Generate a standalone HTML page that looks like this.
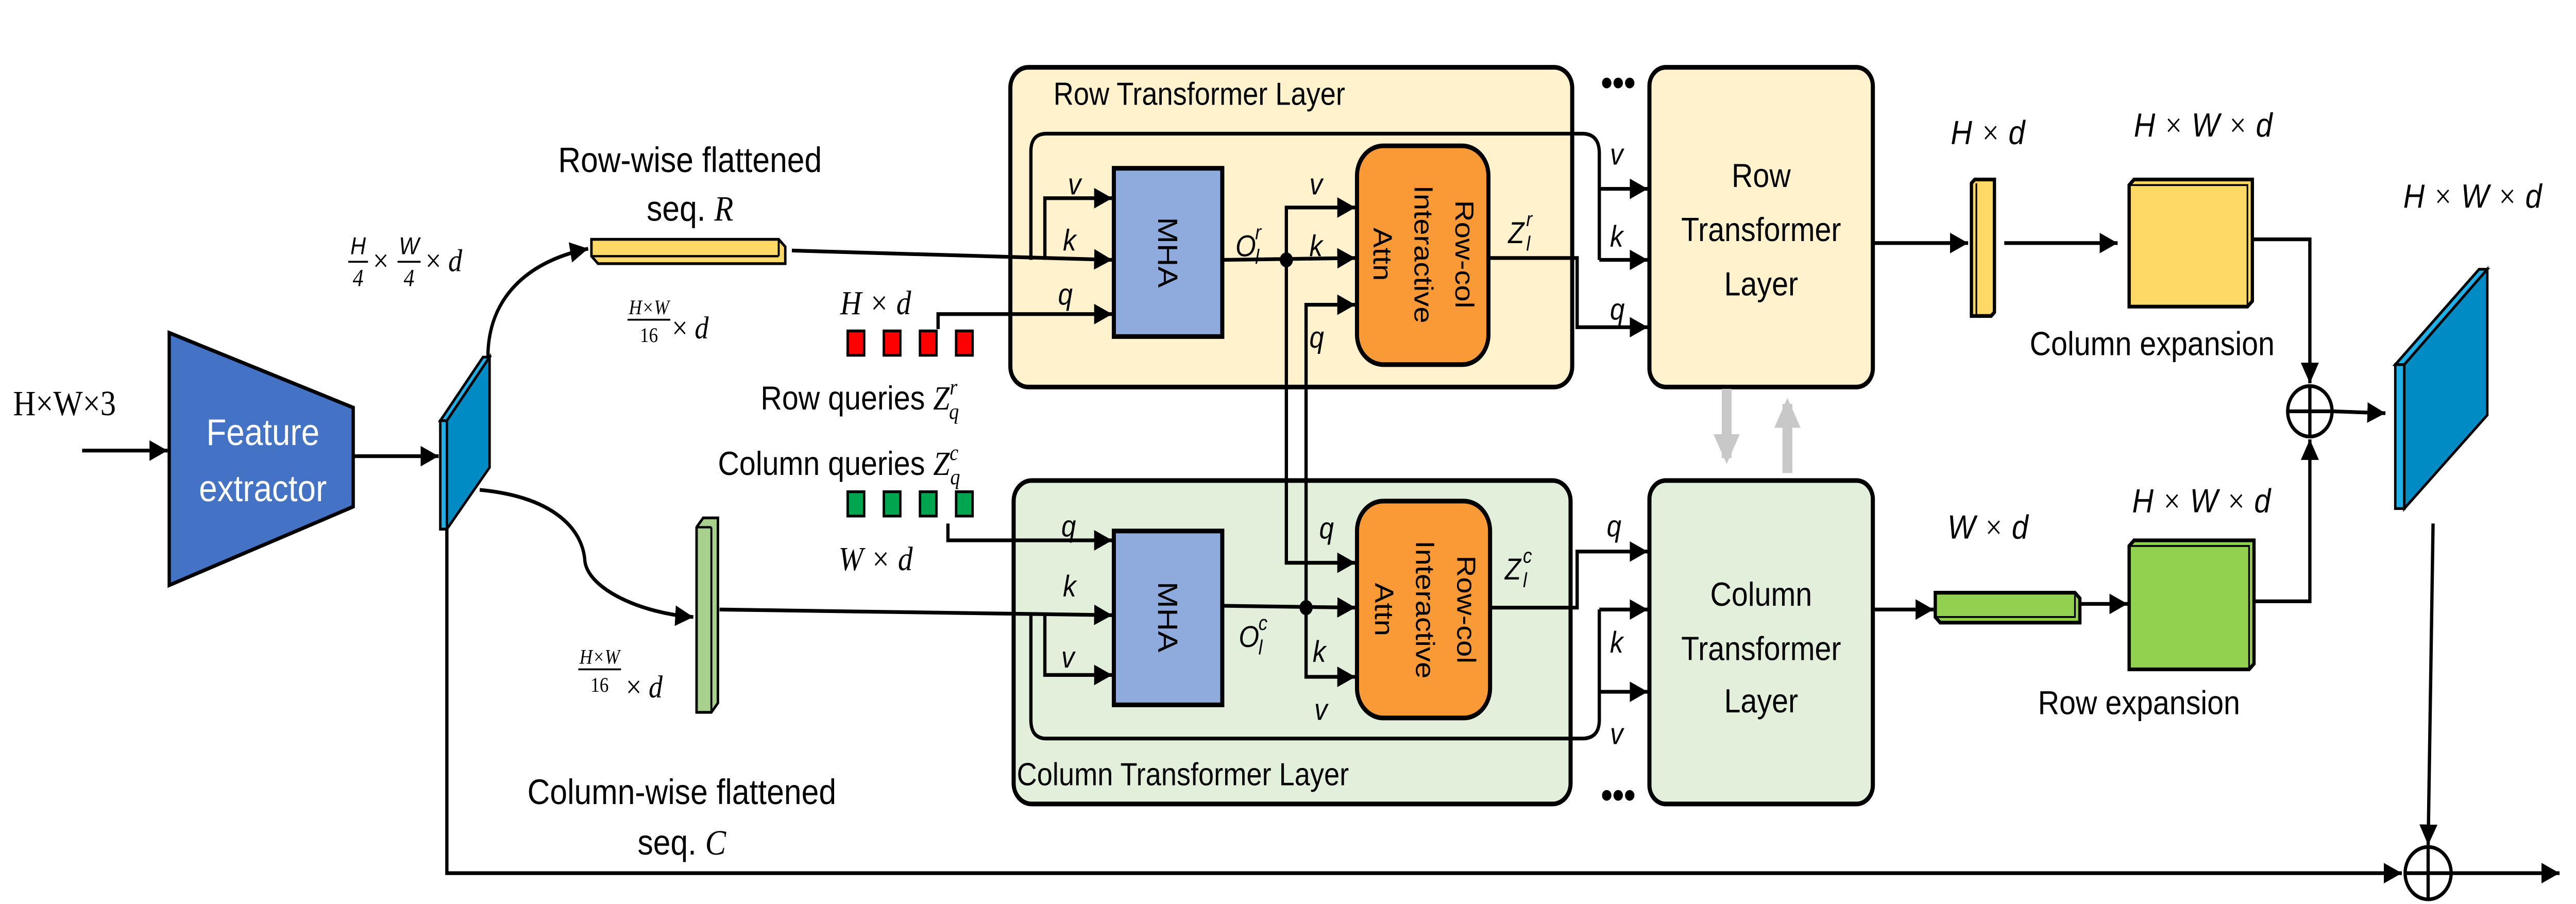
<!DOCTYPE html>
<html><head><meta charset="utf-8"><style>
html,body{margin:0;padding:0;background:#fff;overflow:hidden;width:100%;height:100%;}
svg{display:block;position:fixed;left:0;top:0;width:100vw;height:100vh;}
text{font-family:"Liberation Sans",sans-serif;}
.m{font-family:"Liberation Serif",serif;font-style:italic;}
.s{font-family:"Liberation Serif",serif;}
</style></head><body>
<svg viewBox="0 0 1568 483.5" preserveAspectRatio="none" xmlns="http://www.w3.org/2000/svg">
<defs>
<marker id="a" viewBox="0 0 10 10" refX="10" refY="5" markerWidth="11" markerHeight="11" markerUnits="userSpaceOnUse" orient="auto"><path d="M0,0L10,5L0,10z" fill="#000"/></marker>
<marker id="g" viewBox="0 0 10 10" refX="8" refY="5" markerWidth="16" markerHeight="16" markerUnits="userSpaceOnUse" orient="auto"><path d="M0,0L10,5L0,10z" fill="#c8c8c8"/></marker>
</defs>
<g stroke="#000" stroke-width="2" fill="none">
<line x1="50" y1="241" x2="102" y2="241" marker-end="url(#a)"/>
<polygon points="103,178 215,218 215,271 103,313" fill="#4472C4"/>
<line x1="215" y1="244" x2="267" y2="244" marker-end="url(#a)"/>
<polygon points="268,225 272,225 298,191 294,191" fill="#1FB0E8" stroke-width="1.5"/>
<polygon points="268,225 272,225 272,283 268,283" fill="#1FB0E8" stroke-width="1.5"/>
<polygon points="272,225 298,191 298,250 272,283" fill="#008BC4" stroke-width="1.5"/>
<path d="M297,191 C297,160 320,140 358,133" marker-end="url(#a)"/>
<path d="M292,262 C340,266 355,285 356,300 C358,315 390,328 422,330" marker-end="url(#a)"/>
<polygon points="360,128 474,128 478,132 478,141 364,141 360,137" fill="#FFD966" stroke-width="1.5"/>
<line x1="360" y1="137" x2="474" y2="137" stroke-width="1.2"/><line x1="474" y1="128" x2="474" y2="137" stroke-width="1.2"/>
<polygon points="424,282 428,277 437,277 437,376 433,381 424,381" fill="#A9D18E" stroke-width="1.5"/>
<line x1="433" y1="282" x2="433" y2="381" stroke-width="1.2"/><line x1="424" y1="282" x2="433" y2="282" stroke-width="1.2"/>
<polyline points="272,283 272,467 1462,467" marker-end="url(#a)"/>
<line x1="1492" y1="467" x2="1558" y2="467" marker-end="url(#a)"/>
<circle cx="1478" cy="467" r="14" fill="#fff"/>
<line x1="1464" y1="467" x2="1492" y2="467"/><line x1="1478" y1="453" x2="1478" y2="481"/>
<line x1="1481" y1="280" x2="1478" y2="452" marker-end="url(#a)"/>
<rect x="615" y="36" width="342" height="171" rx="11" fill="#FFF2CC" stroke-width="2.5"/>
<rect x="617" y="257" width="339" height="173" rx="11" fill="#E2EFDA" stroke-width="2.5"/>
<rect x="1004" y="36" width="136" height="171" rx="10" fill="#FFF2CC" stroke-width="2.5"/>
<rect x="1004" y="257" width="136" height="173" rx="10" fill="#E2EFDA" stroke-width="2.5"/>
<line x1="482" y1="134" x2="677" y2="139" marker-end="url(#a)"/>
<polyline points="636,139 636,106 677,106" marker-end="url(#a)"/>
<polyline points="571,176 571,168 677,168" marker-end="url(#a)"/>
<path d="M627.5,139 L627.5,81 Q627.5,71.5 637,71.5 L963,71.5 Q973.5,71.5 973.5,82 L973.5,139"/>
<line x1="973.5" y1="101" x2="1003" y2="101" marker-end="url(#a)"/>
<line x1="973.5" y1="139" x2="1003" y2="139" marker-end="url(#a)"/>
<rect x="678" y="90" width="66" height="90" fill="#8FAADC" stroke-width="2.5"/>
<line x1="744" y1="139" x2="825" y2="138" marker-end="url(#a)"/>
<polyline points="783,139 783,111 825,111" marker-end="url(#a)"/>
<polyline points="795,325 795,163 825,163" marker-end="url(#a)"/>
<polyline points="783,139 783,301 825,301" marker-end="url(#a)"/>
<circle cx="783" cy="139" r="3" fill="#000"/>
<rect x="826" y="78" width="80" height="117" rx="16" fill="#F99A36" stroke-width="2.5"/>
<polyline points="906,138 960,138 960,175 1003,175" marker-end="url(#a)"/>
<line x1="438" y1="326" x2="677" y2="329" marker-end="url(#a)"/>
<polyline points="577,280 577,289 677,289" marker-end="url(#a)"/>
<polyline points="636,329 636,361 677,361" marker-end="url(#a)"/>
<path d="M627.5,329 L627.5,385 Q627.5,395 637,395 L963,395 Q973.5,395 973.5,385 L973.5,326"/>
<line x1="973.5" y1="326" x2="1003" y2="326" marker-end="url(#a)"/>
<line x1="973.5" y1="370" x2="1003" y2="370" marker-end="url(#a)"/>
<rect x="678" y="284" width="66" height="93" fill="#8FAADC" stroke-width="2.5"/>
<line x1="744" y1="324" x2="825" y2="325" marker-end="url(#a)"/>
<polyline points="795,325 795,362 825,362" marker-end="url(#a)"/>
<circle cx="795" cy="325" r="3" fill="#000"/>
<rect x="826" y="268" width="81" height="116" rx="16" fill="#F99A36" stroke-width="2.5"/>
<polyline points="907,325 960,325 960,295 1003,295" marker-end="url(#a)"/>
</g>
<line x1="1051" y1="208" x2="1051" y2="245" stroke="#c8c8c8" stroke-width="6" marker-end="url(#g)"/>
<line x1="1088" y1="253" x2="1088" y2="216" stroke="#c8c8c8" stroke-width="6" marker-end="url(#g)"/>
<g stroke="#000" stroke-width="1.5" fill="#FF0000">
<rect x="516" y="177" width="10" height="13"/><rect x="538" y="177" width="10" height="13"/><rect x="560" y="177" width="10" height="13"/><rect x="582" y="177" width="10" height="13"/>
</g>
<g stroke="#000" stroke-width="1.5" fill="#00A550">
<rect x="516" y="263" width="10" height="13"/><rect x="538" y="263" width="10" height="13"/><rect x="560" y="263" width="10" height="13"/><rect x="582" y="263" width="10" height="13"/>
</g>
<g stroke="#000" stroke-width="2" fill="none">
<line x1="1140" y1="130" x2="1198" y2="130" marker-end="url(#a)"/>
<polygon points="1200,98 1202,96 1214,96 1214,167 1212,169 1200,169" fill="#FFD966"/>
<line x1="1203" y1="98" x2="1203" y2="169" stroke-width="1"/>
<line x1="1220" y1="130" x2="1289" y2="130" marker-end="url(#a)"/>
<polygon points="1296,99 1299,96 1371,96 1371,161 1368,164 1296,164" fill="#FFD966"/>
<polyline points="1296,99 1368,99 1368,164" stroke-width="1"/>
<polyline points="1371,128 1406,128 1406,205" marker-end="url(#a)"/>
<circle cx="1406" cy="220" r="13.5" fill="#fff"/>
<line x1="1392.5" y1="220" x2="1419.5" y2="220"/><line x1="1406" y1="206.5" x2="1406" y2="233.5"/>
<line x1="1420" y1="220" x2="1452" y2="221" marker-end="url(#a)"/>
<polyline points="1372,321.6 1406,321.6 1406,235" marker-end="url(#a)"/>
<line x1="1140" y1="326" x2="1177" y2="326" marker-end="url(#a)"/>
<polygon points="1178,317 1263,317 1266,320 1266,333 1181,333 1178,330" fill="#92D050"/>
<polyline points="1178,330 1263,330 1263,317" stroke-width="1"/>
<line x1="1266" y1="323" x2="1295" y2="323" marker-end="url(#a)"/>
<polygon points="1296,292 1299,289 1372,289 1372,355 1369,358 1296,358" fill="#92D050"/>
<polyline points="1296,292 1369,292 1369,358" stroke-width="1"/>
<polygon points="1458,195 1463.5,195 1514,144 1509,144" fill="#1FB0E8" stroke-width="1.5"/>
<polygon points="1458,195 1463.5,195 1463.5,272 1458,272" fill="#1FB0E8" stroke-width="1.5"/>
<polygon points="1463.5,195 1514,144 1514,222 1463.5,272" fill="#008BC4" stroke-width="1.5"/>
</g>
<text x="8" y="222" class="s" font-size="19">H×W×3</text>
<text x="160" y="238" font-size="20" fill="#fff" text-anchor="middle">Feature</text>
<text x="160" y="268" font-size="20" fill="#fff" text-anchor="middle">extractor</text>
<g class="m" font-size="13"><text x="218" y="136" text-anchor="middle">H</text><text x="218" y="153" text-anchor="middle" class="s">4</text><text x="249" y="136" text-anchor="middle">W</text><text x="249" y="153" text-anchor="middle" class="s">4</text></g>
<line x1="212" y1="140" x2="224" y2="140" stroke="#000" stroke-width="1"/><line x1="242" y1="140" x2="256" y2="140" stroke="#000" stroke-width="1"/>
<text x="227" y="145" font-size="17" class="s">×</text><text x="259" y="145" font-size="17" class="s">× <tspan class="m">d</tspan></text>
<text x="420" y="92" font-size="19" text-anchor="middle">Row-wise flattened</text>
<text x="420" y="118" font-size="19" text-anchor="middle">seq. <tspan class="m">R</tspan></text>
<text x="395" y="168" font-size="11" class="m" text-anchor="middle">H×W</text><line x1="382" y1="171" x2="408" y2="171" stroke="#000" stroke-width="1"/><text x="395" y="183" font-size="11" class="s" text-anchor="middle">16</text>
<text x="409" y="181" font-size="17" class="s">× <tspan class="m">d</tspan></text>
<text x="365" y="355" font-size="11" class="m" text-anchor="middle">H×W</text><line x1="352" y1="358" x2="378" y2="358" stroke="#000" stroke-width="1"/><text x="365" y="370" font-size="11" class="s" text-anchor="middle">16</text>
<text x="381" y="373" font-size="17" class="s">× <tspan class="m">d</tspan></text>
<text x="415" y="430" font-size="19" text-anchor="middle">Column-wise flattened</text>
<text x="415" y="457" font-size="19" text-anchor="middle">seq. <tspan class="m">C</tspan></text>
<text x="533" y="168" font-size="18" class="m" text-anchor="middle">H <tspan class="s">×</tspan> d</text>
<text x="463" y="219" font-size="18">Row queries <tspan class="m">Z</tspan><tspan class="m" font-size="12" dy="-8">r</tspan><tspan class="m" font-size="12" dx="-5" dy="13">q</tspan></text>
<text x="437" y="254" font-size="18">Column queries <tspan class="m">Z</tspan><tspan class="m" font-size="12" dy="-8">c</tspan><tspan class="m" font-size="12" dx="-5" dy="13">q</tspan></text>
<text x="533" y="305" font-size="18" class="m" text-anchor="middle">W <tspan class="s">×</tspan> d</text>
<text x="730" y="56" font-size="17" text-anchor="middle">Row Transformer Layer</text>
<text x="720" y="420" font-size="17" text-anchor="middle">Column Transformer Layer</text>
<text x="985" y="51" font-size="20" text-anchor="middle" font-weight="bold">•••</text>
<text x="985" y="432" font-size="20" text-anchor="middle" font-weight="bold">•••</text>
<text transform="translate(705,135) rotate(90)" font-size="17" text-anchor="middle">MHA</text>
<text transform="translate(705,330) rotate(90)" font-size="17" text-anchor="middle">MHA</text>
<g font-size="16" text-anchor="middle">
<text transform="translate(866,136) rotate(90)"><tspan x="0" y="-20">Row-col</tspan><tspan x="0" y="5">Interactive</tspan><tspan x="0" y="30">Attn</tspan></text>
<text transform="translate(867,326) rotate(90)"><tspan x="0" y="-20">Row-col</tspan><tspan x="0" y="5">Interactive</tspan><tspan x="0" y="30">Attn</tspan></text>
</g>
<g class="m" font-size="16">
<text x="650" y="104">v</text><text x="647" y="134">k</text><text x="644" y="163">q</text>
<text x="797" y="104">v</text><text x="797" y="137">k</text><text x="797" y="186">q</text>
<text x="980" y="88">v</text><text x="980" y="132">k</text><text x="980" y="171">q</text>
<text x="646" y="287">q</text><text x="647" y="319">k</text><text x="646" y="357">v</text>
<text x="803" y="288">q</text><text x="799" y="354">k</text><text x="800" y="385">v</text>
<text x="978" y="287">q</text><text x="980" y="349">k</text><text x="980" y="398">v</text>
<text x="752" y="137">O</text><text x="764" y="128" font-size="11">r</text><text x="764" y="141" font-size="11">l</text>
<text x="754" y="346">O</text><text x="766" y="337" font-size="11">c</text><text x="766" y="350" font-size="11">l</text>
<text x="918" y="130">Z</text><text x="929" y="121" font-size="11">r</text><text x="929" y="134" font-size="11">l</text>
<text x="916" y="310">Z</text><text x="927" y="301" font-size="11">c</text><text x="927" y="314" font-size="11">l</text>
</g>
<g font-size="18" text-anchor="middle">
<text x="1072" y="100">Row</text><text x="1072" y="129">Transformer</text><text x="1072" y="158">Layer</text>
<text x="1072" y="324">Column</text><text x="1072" y="353">Transformer</text><text x="1072" y="381">Layer</text>
<text x="1310" y="190">Column expansion</text>
<text x="1302" y="382">Row expansion</text>
</g>
<g class="m" font-size="18" text-anchor="middle">
<text x="1210" y="77">H <tspan class="s">×</tspan> d</text>
<text x="1341" y="73">H <tspan class="s">×</tspan> W <tspan class="s">×</tspan> d</text>
<text x="1505" y="111">H <tspan class="s">×</tspan> W <tspan class="s">×</tspan> d</text>
<text x="1210" y="288">W <tspan class="s">×</tspan> d</text>
<text x="1340" y="274">H <tspan class="s">×</tspan> W <tspan class="s">×</tspan> d</text>
</g>
</svg>
</body></html>
